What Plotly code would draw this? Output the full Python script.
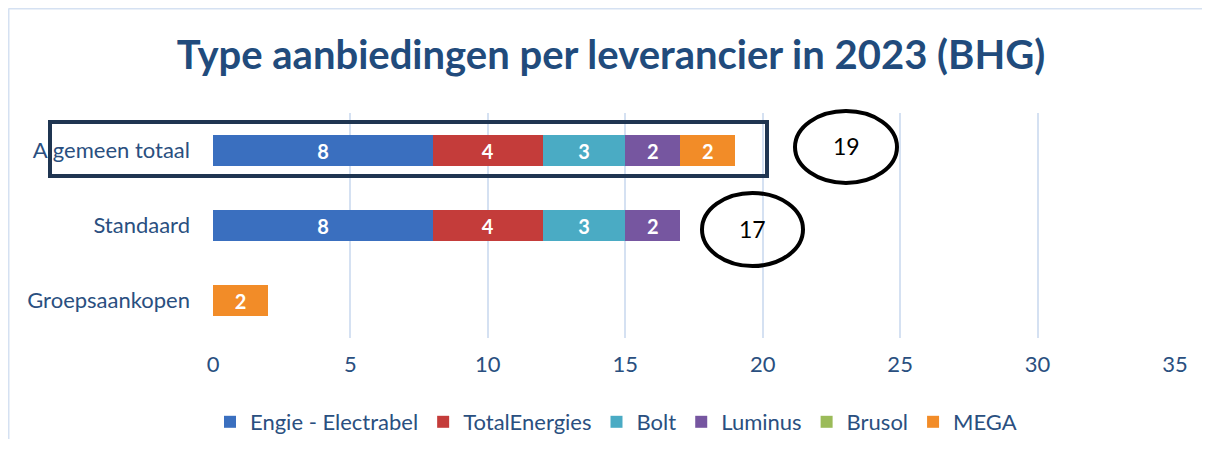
import plotly.graph_objects as go

categories = ["Groepsaankopen", "Standaard", "Algemeen totaal"]
suppliers = ["Engie - Electrabel", "TotalEnergies", "Bolt", "Luminus", "Brusol", "MEGA"]
engie = [0, 8, 8]
totalenergies = [0, 4, 4]
bolt = [0, 3, 3]
luminus = [0, 2, 2]
brusol = [0, 0, 0]
mega = [2, 0, 2]
totals_text = ["17", "19"]
colors = ["#3a6fbf", "#c43c3a", "#4aabc4", "#7656a0", "#9bbb59", "#f28c28"]

# the page body has an 8px margin; positions below are page pixels of the reference
O = 8
PAGE_W, PAGE_H = 1212, 455
W, H = PAGE_W - 2 * O, PAGE_H - 2 * O - 8
plot_left, plot_right, plot_top, plot_bottom = 213, 1175, 113, 338
L, T = plot_left - O, plot_top - O
R = W - (plot_right - O)
B = H - (plot_bottom - O)
pw, ph = W - L - R, H - T - B
x_max = 35

def px(xp):
    return (xp - O - L) / pw

def py(yp):
    return 1 - (yp - O - T) / ph

series = [engie, totalenergies, bolt, luminus, brusol, mega]
fig = go.Figure()
for name, vals, col in zip(suppliers, series, colors):
    fig.add_trace(go.Bar(
        y=categories, x=vals, name=name, orientation="h",
        marker=dict(color=col, line=dict(width=0)),
        text=[str(v) if v else "" for v in vals],
        textposition="inside", insidetextanchor="middle",
        textfont=dict(color="white", size=20, family="Lato", weight="bold"),
        cliponaxis=False,
    ))

title_col = "#214b7c"
axis_col = "#2a4f80"

fig.update_layout(
    width=W, height=H, barmode="stack", bargap=0.585,
    margin=dict(l=L, r=R, t=T, b=B, autoexpand=False),
    paper_bgcolor="white", plot_bgcolor="white",
    title=dict(text="<b>Type aanbiedingen per leverancier in 2023 (BHG)</b>",
               x=px(611), xref="paper", xanchor="center", y=1 - (55 - O) / H, yanchor="middle",
               font=dict(family="Lato", size=40, color=title_col)),
    xaxis=dict(range=[0, x_max], dtick=5, showgrid=True, gridcolor="#d5e1f2", gridwidth=1.5,
               zeroline=False, showline=False, ticks="",
               tickfont=dict(family="Lato", size=22, color=axis_col),
               ticklabelstandoff=11),
    yaxis=dict(showgrid=False, zeroline=False, showline=False, ticks="",
               tickfont=dict(family="Lato", size=22, color=axis_col),
               ticklabelstandoff=22),
    legend=dict(orientation="h", xref="paper", x=px(616), xanchor="center",
                y=py(422), yanchor="middle",
                font=dict(family="Lato", size=22, color=axis_col),
                itemwidth=30, traceorder="normal", itemclick=False),
    showlegend=True,
)

shapes = []
# outer chart border (left and top)
shapes.append(dict(type="line", xref="paper", yref="paper", x0=px(8.5), x1=px(8.5), y0=py(8.5), y1=py(PAGE_H),
                   line=dict(color="#d5e1f2", width=2)))
shapes.append(dict(type="line", xref="paper", yref="paper", x0=px(8.5), x1=px(PAGE_W - O - 2), y0=py(8.5), y1=py(8.5),
                   line=dict(color="#d5e1f2", width=2)))
# highlight box
shapes.append(dict(type="rect", xref="paper", yref="paper", x0=px(50), x1=px(767), y0=py(122), y1=py(176),
                   line=dict(color="#1f3551", width=4)))
# ellipses
shapes.append(dict(type="circle", xref="paper", yref="paper", x0=px(795), x1=px(897), y0=py(111), y1=py(183),
                   line=dict(color="black", width=4)))
shapes.append(dict(type="circle", xref="paper", yref="paper", x0=px(702), x1=px(803), y0=py(193), y1=py(266),
                   line=dict(color="black", width=4)))
fig.update_layout(shapes=shapes)

fig.add_annotation(xref="paper", yref="paper", x=px(846), y=py(146), xanchor="center", yanchor="middle",
                   text=totals_text[1], showarrow=False,
                   font=dict(family="Lato", size=23, color="black"))
fig.add_annotation(xref="paper", yref="paper", x=px(752), y=py(229), xanchor="center", yanchor="middle",
                   text=totals_text[0], showarrow=False,
                   font=dict(family="Lato", size=23, color="black"))

fig.write_html("out.html")
